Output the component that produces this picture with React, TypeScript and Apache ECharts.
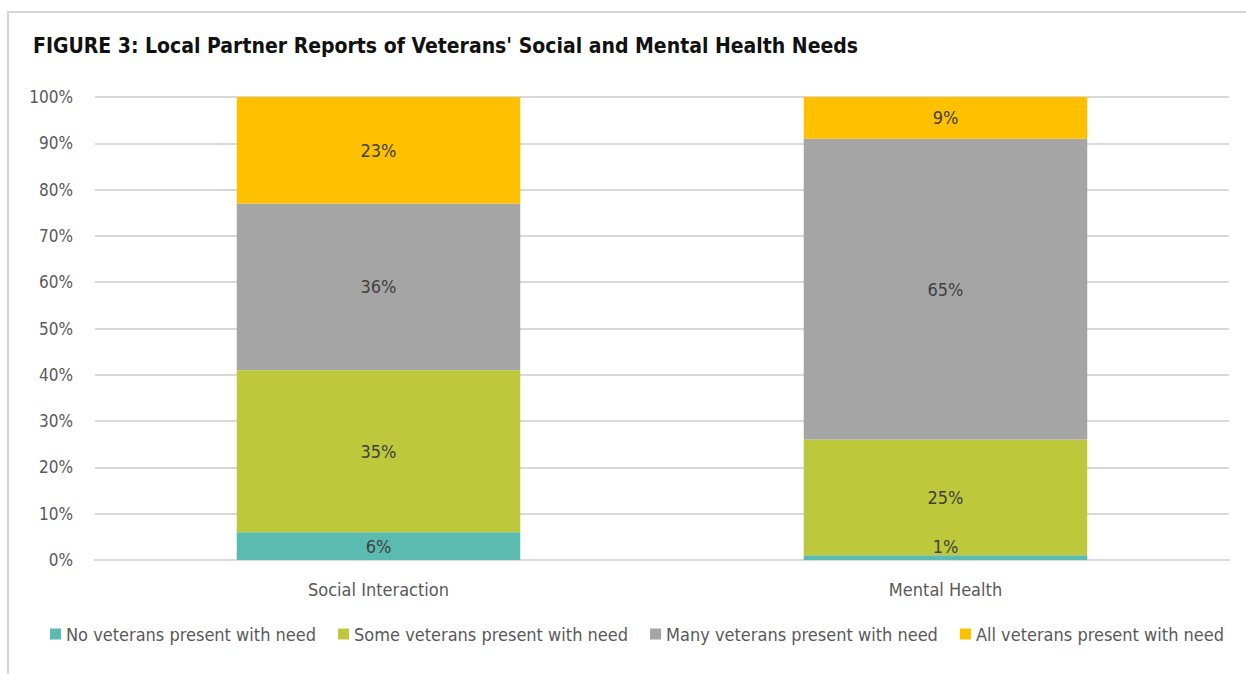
import React, { useEffect, useRef } from "react";
import * as echarts from "echarts";

const categories = ["Social Interaction", "Mental Health"];
const seriesNames = [
  "No veterans present with need",
  "Some veterans present with need",
  "Many veterans present with need",
  "All veterans present with need",
];
const noNeed = [6, 1];
const someNeed = [35, 25];
const manyNeed = [36, 65];
const allNeed = [23, 9];
const colors = ["#5BBBB0", "#BDC83A", "#A5A5A5", "#FFC000"];
const titleText = "FIGURE 3: Local Partner Reports of Veterans' Social and Mental Health Needs";

const FONT = "'Liberation Sans Narrow', 'DejaVu Sans Condensed', 'Roboto', sans-serif";

export default function App() {
  const ref = useRef<HTMLDivElement>(null);
  useEffect(() => {
    document.body.style.margin = "0";
    const chart = echarts.init(ref.current!, null, { renderer: "svg" });
    const values = [noNeed, someNeed, manyNeed, allNeed];
    chart.setOption({
      animation: false,
      backgroundColor: "#ffffff",
      textStyle: { fontFamily: FONT },
      title: {
        text: titleText,
        left: 28,
        top: 30,
        textStyle: { fontFamily: FONT, fontWeight: "bold", fontSize: 21, color: "#111111" },
      },
      grid: { left: 95, right: 17, top: 97, bottom: 114, containLabel: false },
      legend: {
        bottom: 26,
        left: 45,
        itemWidth: 11,
        itemHeight: 11,
        itemGap: 22,
        icon: "rect",
        textStyle: { fontFamily: FONT, fontSize: 18, color: "#595959" },
        data: seriesNames,
      },
      xAxis: {
        type: "category",
        data: categories,
        axisTick: { show: false },
        axisLine: { lineStyle: { color: "#D9D9D9", width: 2 } },
        axisLabel: { fontFamily: FONT, fontSize: 18, color: "#595959", margin: 20 },
      },
      yAxis: {
        type: "value",
        min: 0,
        max: 100,
        interval: 10,
        axisLabel: {
          formatter: "{value}%",
          fontFamily: FONT,
          fontSize: 17,
          color: "#595959",
          margin: 22,
        },
        splitLine: { lineStyle: { color: "#D9D9D9", width: 2 } },
        axisLine: { show: false },
        axisTick: { show: false },
      },
      graphic: [
        {
          type: "polyline",
          shape: { points: [[8, 674], [8, 12], [1246, 12]] },
          style: { stroke: "#D4D4D4", lineWidth: 2, fill: null },
          silent: true,
        },
      ],
      series: seriesNames.map((name, i) => ({
        name,
        type: "bar",
        stack: "total",
        barWidth: "50%",
        data: values[i].map((v, j) =>
          i === 0 && v < 3 ? { value: v, label: { offset: [0, -11] } } : v
        ),
        itemStyle: { color: colors[i] },
        label: {
          show: true,
          position: "inside",
          formatter: "{c}%",
          fontFamily: FONT,
          fontSize: 18,
          color: "#404040",
        },
      })),
    });
    return () => chart.dispose();
  }, []);
  return <div ref={ref} style={{ width: 1246, height: 674 }} />;
}
